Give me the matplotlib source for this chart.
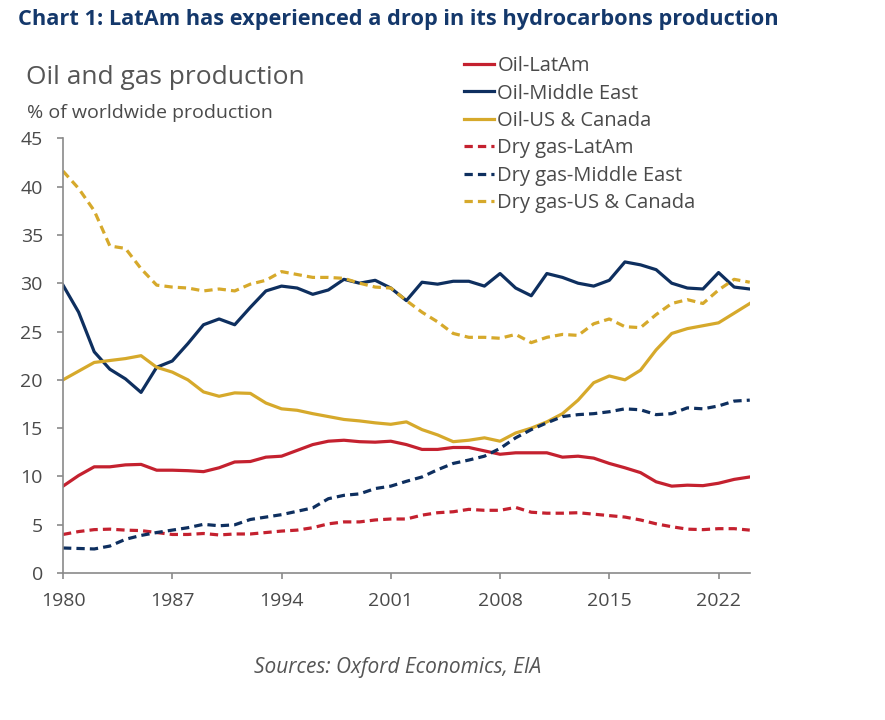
import matplotlib
matplotlib.use("Agg")
import matplotlib.pyplot as plt

plt.rcParams["font.family"] = ["Open Sans", "DejaVu Sans"]

years = list(range(1980, 2025))

oil_latam = [9.0, 10.1, 11.0, 11.0, 11.2, 11.25, 10.65, 10.65, 10.6, 10.5,
             10.9, 11.5, 11.55, 12.0, 12.1, 12.7, 13.3, 13.65, 13.75, 13.6,
             13.55, 13.65, 13.3, 12.8, 12.8, 13.0, 13.0, 12.65, 12.3, 12.45,
             12.45, 12.45, 12.0, 12.1, 11.9, 11.35, 10.9, 10.4, 9.45, 9.0,
             9.1, 9.05, 9.3, 9.7, 9.95]
oil_me = [29.8, 27.0, 22.9, 21.1, 20.1, 18.7, 21.3, 21.95, 23.75, 25.7,
          26.3, 25.7, 27.5, 29.2, 29.7, 29.5, 28.85, 29.3, 30.4, 30.0,
          30.3, 29.5, 28.2, 30.1, 29.9, 30.2, 30.2, 29.7, 31.0, 29.5,
          28.7, 31.0, 30.6, 30.0, 29.7, 30.3, 32.2, 31.9, 31.4, 30.0,
          29.5, 29.4, 31.1, 29.6, 29.4]
oil_usca = [20.0, 20.9, 21.8, 22.0, 22.2, 22.5, 21.3, 20.8, 20.0, 18.75,
            18.3, 18.65, 18.6, 17.6, 17.0, 16.85, 16.5, 16.2, 15.9, 15.75,
            15.55, 15.4, 15.65, 14.85, 14.3, 13.6, 13.75, 14.0, 13.65, 14.5,
            15.0, 15.65, 16.5, 17.9, 19.7, 20.4, 20.0, 21.0, 23.1, 24.8,
            25.3, 25.6, 25.9, 26.9, 27.9]
gas_latam = [4.0, 4.3, 4.5, 4.55, 4.45, 4.4, 4.2, 4.0, 4.0, 4.1,
             3.95, 4.05, 4.05, 4.2, 4.35, 4.45, 4.7, 5.1, 5.3, 5.3,
             5.5, 5.6, 5.6, 6.0, 6.25, 6.35, 6.6, 6.5, 6.5, 6.8,
             6.3, 6.2, 6.2, 6.25, 6.1, 5.95, 5.8, 5.5, 5.1, 4.8,
             4.55, 4.5, 4.6, 4.6, 4.45]
gas_me = [2.6, 2.55, 2.5, 2.8, 3.5, 3.9, 4.2, 4.45, 4.7, 5.05,
          4.9, 5.0, 5.55, 5.8, 6.05, 6.4, 6.75, 7.7, 8.05, 8.2,
          8.75, 9.0, 9.5, 9.95, 10.7, 11.35, 11.7, 12.1, 12.9, 14.0,
          14.85, 15.55, 16.2, 16.4, 16.5, 16.7, 17.0, 16.9, 16.4, 16.5,
          17.1, 17.0, 17.3, 17.8, 17.9]
gas_usca = [41.6, 39.8, 37.5, 33.85, 33.6, 31.5, 29.8, 29.6, 29.5, 29.2,
            29.4, 29.2, 29.9, 30.3, 31.2, 30.9, 30.6, 30.6, 30.5, 30.0,
            29.6, 29.5, 28.2, 27.0, 26.0, 24.8, 24.4, 24.4, 24.3, 24.7,
            23.85, 24.4, 24.7, 24.6, 25.8, 26.3, 25.5, 25.4, 26.75, 27.9,
            28.3, 27.9, 29.3, 30.4, 30.1]

x_ticks = [1980, 1987, 1994, 2001, 2008, 2015, 2022]
y_ticks = list(range(0, 50, 5))

RED = "#C4212F"
NAVY = "#0E2F5F"
GOLD = "#D6A92B"
TEXT = "#4A4A4A"
AXIS = "#8A8A8A"

fig = plt.figure(figsize=(8.85, 7.2), dpi=100, facecolor="white")
ax = fig.add_axes([0.0712, 0.204, 0.776, 0.604])

lw = 2.3
dash = (2.6, 1.6)
ax.plot(years, oil_latam, color=RED, lw=lw, label="Oil-LatAm")
ax.plot(years, oil_me, color=NAVY, lw=lw, label="Oil-Middle East")
ax.plot(years, oil_usca, color=GOLD, lw=lw, label="Oil-US & Canada")
ax.plot(years, gas_latam, color=RED, lw=lw, dashes=dash, label="Dry gas-LatAm")
ax.plot(years, gas_me, color=NAVY, lw=lw, dashes=dash, label="Dry gas-Middle East")
ax.plot(years, gas_usca, color=GOLD, lw=lw, dashes=dash, label="Dry gas-US & Canada")

ax.set_xlim(1980, 2024)
ax.set_ylim(0, 45)
ax.set_xticks(x_ticks)
ax.set_yticks(y_ticks)
for side in ("top", "right"):
    ax.spines[side].set_visible(False)
for side in ("left", "bottom"):
    ax.spines[side].set_color(AXIS)
    ax.spines[side].set_linewidth(1.2)
ax.tick_params(axis="both", colors=AXIS, labelcolor=TEXT, labelsize=14,
               length=4.5, width=1.2, direction="out")
ax.tick_params(axis="y", pad=10)
ax.tick_params(axis="x", pad=9)

leg = ax.legend(loc="upper left", bbox_to_anchor=(456 / 885, 1 - 48 / 720),
                bbox_transform=fig.transFigure, frameon=False, fontsize=14.5,
                handlelength=1.5, handletextpad=0.15, labelspacing=0.37,
                borderaxespad=0)
for t in leg.get_texts():
    t.set_color(TEXT)

fig.text(18 / 885, 1 - 20 / 720,
         "Chart 1: LatAm has experienced a drop in its hydrocarbons production",
         fontsize=15.7, fontweight="bold", color="#14386B", ha="left", va="center")
fig.text(26 / 885, 1 - 78 / 720, "Oil and gas production",
         fontsize=19, color="#555555", ha="left", va="center")
fig.text(27 / 885, 1 - 113 / 720, "% of worldwide production",
         fontsize=14, color=TEXT, ha="left", va="center")
fig.text(398 / 885, 1 - 668 / 720, "Sources: Oxford Economics, EIA",
         fontsize=15, style="italic", color="#555555", ha="center", va="center")

fig.savefig("out.png", dpi=100, facecolor="white")
